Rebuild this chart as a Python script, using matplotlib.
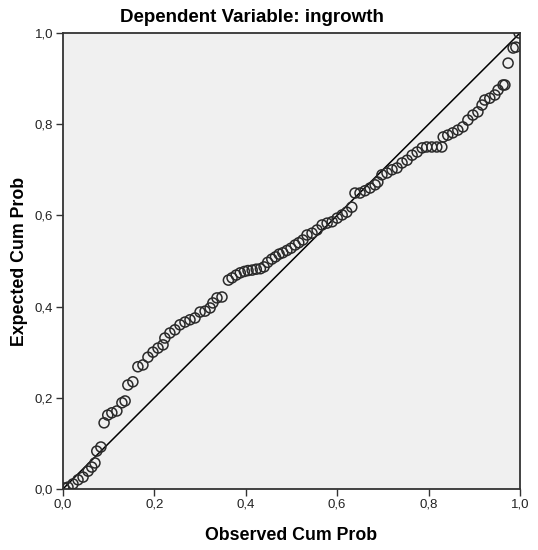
import matplotlib.pyplot as plt
import numpy as np

plt.rcParams["font.family"] = ["Liberation Sans", "DejaVu Sans"]

# P-P plot values
observed = [
    0.002, 0.011, 0.022, 0.033, 0.044, 0.055, 0.063, 0.070, 0.074, 0.083,
    0.090, 0.098, 0.107, 0.118, 0.129, 0.136, 0.142, 0.153, 0.164, 0.175,
    0.186, 0.197, 0.208, 0.219, 0.223, 0.234, 0.245, 0.256, 0.267, 0.278,
    0.289, 0.300, 0.311, 0.322, 0.328, 0.337, 0.348, 0.362, 0.370, 0.379,
    0.388, 0.397, 0.405, 0.414, 0.423, 0.432, 0.440, 0.448, 0.457, 0.465,
    0.473, 0.481, 0.490, 0.499, 0.508, 0.516, 0.525, 0.534, 0.545, 0.556,
    0.567, 0.578, 0.589, 0.600, 0.611, 0.621, 0.632, 0.639, 0.650, 0.661,
    0.672, 0.683, 0.689, 0.698, 0.709, 0.720, 0.731, 0.742, 0.753, 0.764,
    0.775, 0.786, 0.796, 0.807, 0.818, 0.829, 0.832, 0.842, 0.853, 0.864,
    0.875, 0.886, 0.897, 0.908, 0.917, 0.923, 0.934, 0.945, 0.952, 0.963,
    0.967, 0.974, 0.985, 0.991, 0.998,
]
expected = [
    0.002, 0.004, 0.011, 0.020, 0.026, 0.039, 0.048, 0.057, 0.083, 0.092,
    0.145, 0.162, 0.167, 0.171, 0.189, 0.193, 0.228, 0.235, 0.268, 0.272,
    0.289, 0.300, 0.309, 0.316, 0.331, 0.342, 0.349, 0.360, 0.366, 0.371,
    0.375, 0.388, 0.390, 0.397, 0.408, 0.419, 0.421, 0.458, 0.463, 0.469,
    0.474, 0.477, 0.479, 0.480, 0.482, 0.483, 0.487, 0.497, 0.504, 0.509,
    0.515, 0.518, 0.523, 0.528, 0.535, 0.540, 0.546, 0.557, 0.561, 0.568,
    0.579, 0.583, 0.586, 0.594, 0.601, 0.607, 0.618, 0.649, 0.649, 0.654,
    0.660, 0.667, 0.673, 0.689, 0.693, 0.700, 0.704, 0.715, 0.721, 0.732,
    0.739, 0.748, 0.750, 0.750, 0.750, 0.750, 0.772, 0.776, 0.781, 0.787,
    0.794, 0.809, 0.820, 0.827, 0.842, 0.853, 0.857, 0.864, 0.875, 0.886,
    0.886, 0.934, 0.967, 0.969, 1.000,
]
ticks = [0.0, 0.2, 0.4, 0.6, 0.8, 1.0]
tick_labels = ["0,0", "0,2", "0,4", "0,6", "0,8", "1,0"]

fig = plt.figure(figsize=(5.38, 5.5), dpi=100)
fig.patch.set_facecolor("white")
ax = fig.add_axes([0.117, 0.111, 0.8495, 0.829])
ax.set_facecolor("#f0f0f0")

ax.plot([0, 1], [0, 1], color="black", linewidth=1.1, zorder=2)
ax.scatter(observed, expected, s=52, facecolors="none", edgecolors="#2a2a2a",
           linewidths=1.1, zorder=3)

ax.set_xlim(0, 1)
ax.set_ylim(0, 1)
ax.set_xticks(ticks)
ax.set_xticklabels(tick_labels)
ax.set_yticks(ticks)
ax.set_yticklabels(tick_labels)
ax.tick_params(axis="both", direction="out", length=5, width=1.0,
               labelsize=9.5, color="#333333", labelcolor="#222222", pad=2)

for side in ["top", "right", "bottom", "left"]:
    ax.spines[side].set_color("#333333")
    ax.spines[side].set_linewidth(1.3)

fig.text(0.468, 0.969, "Dependent Variable: ingrowth", fontsize=13.5,
         fontweight="bold", ha="center", va="center")
ax.set_xlabel("Observed Cum Prob", fontsize=12.8, fontweight="bold", labelpad=12)
ax.set_ylabel("Expected Cum Prob", fontsize=12.8, fontweight="bold", labelpad=5)

fig.savefig("out.png", dpi=100, facecolor="white")
